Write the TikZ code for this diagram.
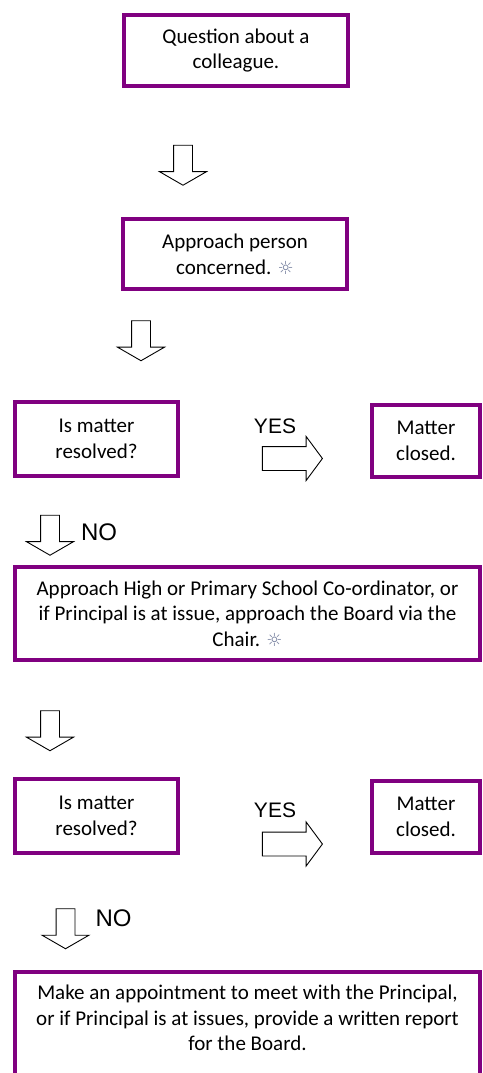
\documentclass[tikz,border=0pt]{standalone}
\usepackage{fontspec}
\setmainfont{Carlito}
\newfontfamily\answerfont{Liberation Sans}
\newfontfamily\symbolfont{DejaVu Sans}
\usetikzlibrary{shapes.arrows, positioning}
\definecolor{boxpurple}{RGB}{128,0,128}
\definecolor{sungray}{RGB}{120,130,160}
\newcommand{\sunmark}{{\symbolfont\color{sungray}\fontsize{18}{18}\selectfont ☼}}
\tikzset{
    stepbox/.style={draw=boxpurple, line width=4pt, align=center, inner sep=0pt,
        font=\fontsize{21}{25.6}\selectfont},
    downblock/.style={single arrow, draw=black, fill=white, line width=0.9pt, rotate=-90,
        minimum height=40pt, inner xsep=0pt, inner ysep=9pt,
        single arrow head extend=14pt, single arrow tip angle=120},
    rightblock/.style={single arrow, draw=black, fill=white, line width=0.9pt,
        minimum height=60pt, inner xsep=0pt, inner ysep=11.5pt,
        single arrow head extend=10pt, single arrow tip angle=107},
    answer/.style={inner sep=0pt, font=\answerfont\fontsize{21}{24}\selectfont}
}

\begin{document}
\begin{tikzpicture}[x=1pt, y=-1pt]
    \useasboundingbox (0,0) rectangle (482,1073);
    \clip (0,0) rectangle (482,1073);

    \node[stepbox, minimum width=224pt, minimum height=71pt] (question) at (236,50.5) {Question about a\\colleague.};
    \node[downblock] (arrowA) at (183,162.5) {};
    \node[stepbox, minimum width=224pt, minimum height=70pt] (approach) at (235,254) {Approach person\\concerned. \sunmark};
    \node[downblock] (arrowB) at (141,338) {};

    \node[stepbox, minimum width=163pt, minimum height=74pt] (resolved) at (96.5,439) {Is matter\\resolved?};
    \node[answer] (yes) at (275,426) {YES};
    \node[rightblock] (arrowC) at (288,458.5) {};
    \node[stepbox, minimum width=108pt, minimum height=72pt] (closed) at (426,441) {Matter\\closed.};
    \node[downblock] (arrowD) at (50,532.5) {};
    \node[answer, font=\answerfont\fontsize{24}{26}\selectfont] (no) at (99,532.5) {NO};

    \node[stepbox, minimum width=465pt, minimum height=93pt] (coordinator) at (247.5,613.5)
        {Approach High or Primary School Co-ordinator, or\\if Principal is at issue, approach the Board via the\\Chair. \sunmark};
    \node[downblock] (arrowE) at (50,728) {};

    \node[stepbox, minimum width=163pt, minimum height=74pt] (resolved2) at (96.5,816) {Is matter\\resolved?};
    \node[answer] (yes2) at (275,810) {YES};
    \node[rightblock] (arrowF) at (288,844) {};
    \node[stepbox, minimum width=108pt, minimum height=72pt] (closed2) at (426,817) {Matter\\closed.};
    \node[downblock] (arrowG) at (65.5,926) {};
    \node[answer, font=\answerfont\fontsize{24}{26}\selectfont] (no2) at (113.5,918) {NO};

    \node[stepbox, anchor=north, minimum width=465pt, inner ysep=13pt, text depth=100pt] (meeting) at (247.5,970)
        {Make an appointment to meet with the Principal,\\or if Principal is at issues, provide a written report\\for the Board.};
\end{tikzpicture}
\end{document}
